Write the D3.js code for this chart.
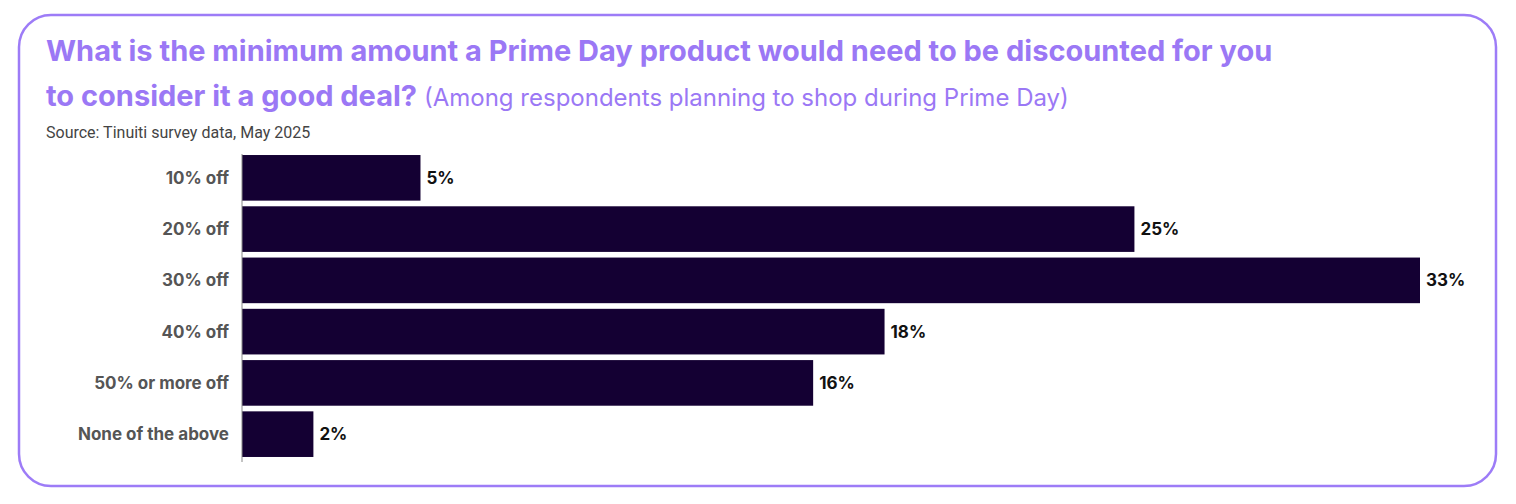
<!DOCTYPE html>
<html><head><meta charset="utf-8">
<script src="https://cdn.jsdelivr.net/npm/d3@7"></script>
<style>body{margin:0;background:#fff;}</style>
</head><body>
<svg id="c" width="1516" height="504"></svg>
<script>
const categories = ["10% off","20% off","30% off","40% off","50% or more off","None of the above"];
const values = [5,25,33,18,16,2];
const valueLabels = ["5%","25%","33%","18%","16%","2%"];

const svg = d3.select("#c");
svg.append("rect").attr("x",19).attr("y",15).attr("width",1477).attr("height",471)
  .attr("rx",32).attr("fill","#fff").attr("stroke","#9d7cf7").attr("stroke-width",2.5);

const t = svg.append("text").attr("x",46).attr("y",61).attr("fill","#9b78f5")
  .style("font-family","Inter, 'Open Sans', sans-serif").style("font-weight",700).style("font-size","29px");
t.text("What is the minimum amount a Prime Day product would need to be discounted for you");
const t2 = svg.append("text").attr("x",46).attr("y",106).attr("fill","#9b78f5")
  .style("font-family","Inter, 'Open Sans', sans-serif").style("font-size","29px");
t2.append("tspan").style("font-weight",700).text("to consider it a good deal? ");
t2.append("tspan").style("font-weight",400).style("font-size","24px").text("(Among respondents planning to shop during Prime Day)");
svg.append("text").attr("x",46).attr("y",138).attr("fill","#444")
  .style("font-family","Roboto, sans-serif").style("font-size","16px").text("Source: Tinuiti survey data, May 2025");

const x = d3.scaleLinear().domain([0,33]).range([242,1420]);
const y = d3.scaleBand().domain(categories).range([154,458]).paddingInner(0.11).paddingOuter(0.02);

svg.selectAll(".bar").data(values).join("rect")
  .attr("x",x(0)).attr("y",(d,i)=>y(categories[i])).attr("width",d=>x(d)-x(0))
  .attr("height",y.bandwidth()).attr("fill","#140033");

svg.append("line").attr("x1",242).attr("x2",242).attr("y1",154).attr("y2",462).attr("stroke","#888").attr("stroke-width",1);

svg.selectAll(".cat").data(categories).join("text")
  .attr("x",229).attr("y",d=>y(d)+y.bandwidth()/2).attr("dy","0.35em").attr("text-anchor","end")
  .attr("fill","#555").style("font-family","Inter, sans-serif").style("font-weight",700).style("font-size","17px")
  .text(d=>d);
svg.selectAll(".val").data(values).join("text")
  .attr("x",d=>x(d)+6).attr("y",(d,i)=>y(categories[i])+y.bandwidth()/2).attr("dy","0.35em")
  .attr("fill","#111").style("font-family","Inter, sans-serif").style("font-weight",700).style("font-size","17px")
  .text((d,i)=>valueLabels[i]);
</script>
</body></html>
